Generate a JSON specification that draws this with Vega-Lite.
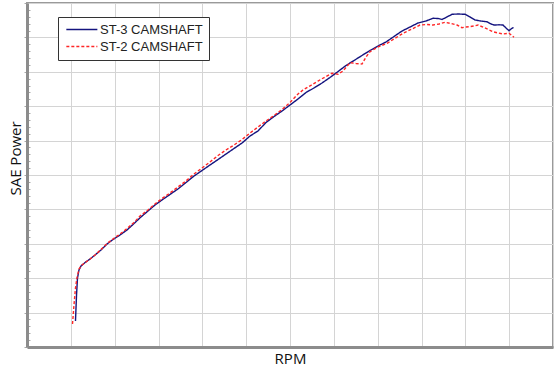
{
  "$schema": "https://vega.github.io/schema/vega-lite/v6.json",
  "width": 526,
  "height": 344,
  "autosize": {"type": "none"},
  "padding": {"left": 27, "top": 3, "right": 7, "bottom": 23},
  "background": "white",
  "config": {
    "view": {"stroke": "#9a9a9a", "strokeWidth": 2},
    "font": "Open Sans",
    "legend": {
      "orient": "none",
      "legendX": 31,
      "legendY": 14,
      "padding": 6,
      "strokeColor": "#333333",
      "fillColor": "white",
      "labelFont": "Liberation Sans",
      "labelFontSize": 13,
      "labelColor": "#222222",
      "symbolSize": 107,
      "symbolStrokeWidth": 1.5,
      "symbolOffset": 11.35,
      "labelOffset": 11.7,
      "rowPadding": 3,
      "labelLimit": 250,
      "cornerRadius": 0
    }
  },
  "data": {
    "values": [
      {"series": "ST-3 CAMSHAFT", "rpm": 553, "power": 37.8},
      {"series": "ST-3 CAMSHAFT", "rpm": 565, "power": 75.6},
      {"series": "ST-3 CAMSHAFT", "rpm": 576, "power": 100.3},
      {"series": "ST-3 CAMSHAFT", "rpm": 593, "power": 111.9},
      {"series": "ST-3 CAMSHAFT", "rpm": 616, "power": 117.7},
      {"series": "ST-3 CAMSHAFT", "rpm": 662, "power": 122.8},
      {"series": "ST-3 CAMSHAFT", "rpm": 719, "power": 127.9},
      {"series": "ST-3 CAMSHAFT", "rpm": 776, "power": 133.7},
      {"series": "ST-3 CAMSHAFT", "rpm": 844, "power": 141.0},
      {"series": "ST-3 CAMSHAFT", "rpm": 913, "power": 149.7},
      {"series": "ST-3 CAMSHAFT", "rpm": 981, "power": 156.3},
      {"series": "ST-3 CAMSHAFT", "rpm": 1061, "power": 162.8},
      {"series": "ST-3 CAMSHAFT", "rpm": 1141, "power": 170.1},
      {"series": "ST-3 CAMSHAFT", "rpm": 1221, "power": 179.5},
      {"series": "ST-3 CAMSHAFT", "rpm": 1300, "power": 189.0},
      {"series": "ST-3 CAMSHAFT", "rpm": 1380, "power": 197.7},
      {"series": "ST-3 CAMSHAFT", "rpm": 1460, "power": 206.4},
      {"series": "ST-3 CAMSHAFT", "rpm": 1540, "power": 213.7},
      {"series": "ST-3 CAMSHAFT", "rpm": 1631, "power": 221.7},
      {"series": "ST-3 CAMSHAFT", "rpm": 1722, "power": 229.7},
      {"series": "ST-3 CAMSHAFT", "rpm": 1814, "power": 239.1},
      {"series": "ST-3 CAMSHAFT", "rpm": 1905, "power": 248.5},
      {"series": "ST-3 CAMSHAFT", "rpm": 1996, "power": 256.5},
      {"series": "ST-3 CAMSHAFT", "rpm": 2087, "power": 264.5},
      {"series": "ST-3 CAMSHAFT", "rpm": 2179, "power": 272.5},
      {"series": "ST-3 CAMSHAFT", "rpm": 2270, "power": 280.5},
      {"series": "ST-3 CAMSHAFT", "rpm": 2361, "power": 288.5},
      {"series": "ST-3 CAMSHAFT", "rpm": 2453, "power": 296.5},
      {"series": "ST-3 CAMSHAFT", "rpm": 2544, "power": 306.7},
      {"series": "ST-3 CAMSHAFT", "rpm": 2635, "power": 314.0},
      {"series": "ST-3 CAMSHAFT", "rpm": 2726, "power": 326.3},
      {"series": "ST-3 CAMSHAFT", "rpm": 2818, "power": 335.0},
      {"series": "ST-3 CAMSHAFT", "rpm": 2909, "power": 343.0},
      {"series": "ST-3 CAMSHAFT", "rpm": 3000, "power": 351.7},
      {"series": "ST-3 CAMSHAFT", "rpm": 3091, "power": 360.5},
      {"series": "ST-3 CAMSHAFT", "rpm": 3183, "power": 369.9},
      {"series": "ST-3 CAMSHAFT", "rpm": 3274, "power": 376.5},
      {"series": "ST-3 CAMSHAFT", "rpm": 3365, "power": 383.7},
      {"series": "ST-3 CAMSHAFT", "rpm": 3456, "power": 391.7},
      {"series": "ST-3 CAMSHAFT", "rpm": 3548, "power": 400.4},
      {"series": "ST-3 CAMSHAFT", "rpm": 3639, "power": 409.2},
      {"series": "ST-3 CAMSHAFT", "rpm": 3730, "power": 416.4},
      {"series": "ST-3 CAMSHAFT", "rpm": 3821, "power": 423.7},
      {"series": "ST-3 CAMSHAFT", "rpm": 3913, "power": 431.0},
      {"series": "ST-3 CAMSHAFT", "rpm": 4004, "power": 437.5},
      {"series": "ST-3 CAMSHAFT", "rpm": 4095, "power": 443.3},
      {"series": "ST-3 CAMSHAFT", "rpm": 4186, "power": 451.3},
      {"series": "ST-3 CAMSHAFT", "rpm": 4278, "power": 459.3},
      {"series": "ST-3 CAMSHAFT", "rpm": 4369, "power": 465.1},
      {"series": "ST-3 CAMSHAFT", "rpm": 4460, "power": 470.9},
      {"series": "ST-3 CAMSHAFT", "rpm": 4551, "power": 473.8},
      {"series": "ST-3 CAMSHAFT", "rpm": 4631, "power": 477.8},
      {"series": "ST-3 CAMSHAFT", "rpm": 4688, "power": 477.5},
      {"series": "ST-3 CAMSHAFT", "rpm": 4734, "power": 476.0},
      {"series": "ST-3 CAMSHAFT", "rpm": 4791, "power": 479.7},
      {"series": "ST-3 CAMSHAFT", "rpm": 4848, "power": 483.6},
      {"series": "ST-3 CAMSHAFT", "rpm": 4916, "power": 484.0},
      {"series": "ST-3 CAMSHAFT", "rpm": 4996, "power": 483.6},
      {"series": "ST-3 CAMSHAFT", "rpm": 5053, "power": 479.7},
      {"series": "ST-3 CAMSHAFT", "rpm": 5110, "power": 475.3},
      {"series": "ST-3 CAMSHAFT", "rpm": 5179, "power": 473.8},
      {"series": "ST-3 CAMSHAFT", "rpm": 5247, "power": 472.8},
      {"series": "ST-3 CAMSHAFT", "rpm": 5293, "power": 469.5},
      {"series": "ST-3 CAMSHAFT", "rpm": 5327, "power": 468.0},
      {"series": "ST-3 CAMSHAFT", "rpm": 5384, "power": 468.3},
      {"series": "ST-3 CAMSHAFT", "rpm": 5430, "power": 468.0},
      {"series": "ST-3 CAMSHAFT", "rpm": 5464, "power": 463.7},
      {"series": "ST-3 CAMSHAFT", "rpm": 5498, "power": 459.7},
      {"series": "ST-3 CAMSHAFT", "rpm": 5521, "power": 462.2},
      {"series": "ST-3 CAMSHAFT", "rpm": 5550, "power": 464.4},
      {"series": "ST-2 CAMSHAFT", "rpm": 519, "power": 33.4},
      {"series": "ST-2 CAMSHAFT", "rpm": 536, "power": 61.0},
      {"series": "ST-2 CAMSHAFT", "rpm": 553, "power": 85.8},
      {"series": "ST-2 CAMSHAFT", "rpm": 570, "power": 100.3},
      {"series": "ST-2 CAMSHAFT", "rpm": 593, "power": 113.4},
      {"series": "ST-2 CAMSHAFT", "rpm": 627, "power": 119.2},
      {"series": "ST-2 CAMSHAFT", "rpm": 673, "power": 123.5},
      {"series": "ST-2 CAMSHAFT", "rpm": 719, "power": 127.9},
      {"series": "ST-2 CAMSHAFT", "rpm": 776, "power": 133.7},
      {"series": "ST-2 CAMSHAFT", "rpm": 844, "power": 141.7},
      {"series": "ST-2 CAMSHAFT", "rpm": 913, "power": 150.4},
      {"series": "ST-2 CAMSHAFT", "rpm": 981, "power": 157.0},
      {"series": "ST-2 CAMSHAFT", "rpm": 1061, "power": 164.2},
      {"series": "ST-2 CAMSHAFT", "rpm": 1141, "power": 172.2},
      {"series": "ST-2 CAMSHAFT", "rpm": 1221, "power": 181.0},
      {"series": "ST-2 CAMSHAFT", "rpm": 1289, "power": 190.4},
      {"series": "ST-2 CAMSHAFT", "rpm": 1380, "power": 199.1},
      {"series": "ST-2 CAMSHAFT", "rpm": 1460, "power": 207.9},
      {"series": "ST-2 CAMSHAFT", "rpm": 1540, "power": 215.8},
      {"series": "ST-2 CAMSHAFT", "rpm": 1631, "power": 223.8},
      {"series": "ST-2 CAMSHAFT", "rpm": 1722, "power": 232.6},
      {"series": "ST-2 CAMSHAFT", "rpm": 1814, "power": 241.3},
      {"series": "ST-2 CAMSHAFT", "rpm": 1905, "power": 251.5},
      {"series": "ST-2 CAMSHAFT", "rpm": 1996, "power": 260.2},
      {"series": "ST-2 CAMSHAFT", "rpm": 2087, "power": 268.9},
      {"series": "ST-2 CAMSHAFT", "rpm": 2179, "power": 278.3},
      {"series": "ST-2 CAMSHAFT", "rpm": 2270, "power": 286.3},
      {"series": "ST-2 CAMSHAFT", "rpm": 2361, "power": 293.6},
      {"series": "ST-2 CAMSHAFT", "rpm": 2453, "power": 301.6},
      {"series": "ST-2 CAMSHAFT", "rpm": 2544, "power": 311.0},
      {"series": "ST-2 CAMSHAFT", "rpm": 2635, "power": 319.8},
      {"series": "ST-2 CAMSHAFT", "rpm": 2726, "power": 328.5},
      {"series": "ST-2 CAMSHAFT", "rpm": 2818, "power": 336.5},
      {"series": "ST-2 CAMSHAFT", "rpm": 2909, "power": 345.2},
      {"series": "ST-2 CAMSHAFT", "rpm": 3000, "power": 355.4},
      {"series": "ST-2 CAMSHAFT", "rpm": 3091, "power": 367.7},
      {"series": "ST-2 CAMSHAFT", "rpm": 3148, "power": 373.5},
      {"series": "ST-2 CAMSHAFT", "rpm": 3228, "power": 379.4},
      {"series": "ST-2 CAMSHAFT", "rpm": 3319, "power": 386.6},
      {"series": "ST-2 CAMSHAFT", "rpm": 3411, "power": 393.2},
      {"series": "ST-2 CAMSHAFT", "rpm": 3479, "power": 397.8},
      {"series": "ST-2 CAMSHAFT", "rpm": 3548, "power": 396.4},
      {"series": "ST-2 CAMSHAFT", "rpm": 3605, "power": 401.2},
      {"series": "ST-2 CAMSHAFT", "rpm": 3684, "power": 413.2},
      {"series": "ST-2 CAMSHAFT", "rpm": 3753, "power": 412.1},
      {"series": "ST-2 CAMSHAFT", "rpm": 3821, "power": 411.3},
      {"series": "ST-2 CAMSHAFT", "rpm": 3867, "power": 421.5},
      {"series": "ST-2 CAMSHAFT", "rpm": 3913, "power": 429.2},
      {"series": "ST-2 CAMSHAFT", "rpm": 4004, "power": 436.1},
      {"series": "ST-2 CAMSHAFT", "rpm": 4107, "power": 441.4},
      {"series": "ST-2 CAMSHAFT", "rpm": 4186, "power": 447.7},
      {"series": "ST-2 CAMSHAFT", "rpm": 4289, "power": 456.0},
      {"series": "ST-2 CAMSHAFT", "rpm": 4369, "power": 460.8},
      {"series": "ST-2 CAMSHAFT", "rpm": 4483, "power": 468.0},
      {"series": "ST-2 CAMSHAFT", "rpm": 4563, "power": 468.8},
      {"series": "ST-2 CAMSHAFT", "rpm": 4631, "power": 468.0},
      {"series": "ST-2 CAMSHAFT", "rpm": 4700, "power": 469.5},
      {"series": "ST-2 CAMSHAFT", "rpm": 4768, "power": 471.9},
      {"series": "ST-2 CAMSHAFT", "rpm": 4837, "power": 470.2},
      {"series": "ST-2 CAMSHAFT", "rpm": 4905, "power": 468.0},
      {"series": "ST-2 CAMSHAFT", "rpm": 4962, "power": 464.1},
      {"series": "ST-2 CAMSHAFT", "rpm": 5008, "power": 465.1},
      {"series": "ST-2 CAMSHAFT", "rpm": 5053, "power": 465.6},
      {"series": "ST-2 CAMSHAFT", "rpm": 5099, "power": 466.6},
      {"series": "ST-2 CAMSHAFT", "rpm": 5145, "power": 468.0},
      {"series": "ST-2 CAMSHAFT", "rpm": 5224, "power": 463.7},
      {"series": "ST-2 CAMSHAFT", "rpm": 5316, "power": 458.3},
      {"series": "ST-2 CAMSHAFT", "rpm": 5373, "power": 456.4},
      {"series": "ST-2 CAMSHAFT", "rpm": 5430, "power": 455.0},
      {"series": "ST-2 CAMSHAFT", "rpm": 5498, "power": 456.0},
      {"series": "ST-2 CAMSHAFT", "rpm": 5555, "power": 450.2}
    ]
  },
  "mark": {"type": "line", "strokeWidth": 1.4},
  "encoding": {
    "x": {
      "field": "rpm",
      "type": "quantitative",
      "scale": {"domain": [0, 6000], "nice": false, "zero": false},
      "axis": {
        "title": "RPM",
        "values": [0, 500, 1000, 1500, 2000, 2500, 3000, 3500, 4000, 4500, 5000, 5500, 6000],
        "labels": false,
        "ticks": false,
        "grid": true,
        "gridColor": "#d4d4d4",
        "domainColor": "#8c8c8c",
        "domainWidth": 3,
        "titleFont": "Open Sans",
        "titleFontSize": 15,
        "titleFontWeight": "normal",
        "titleColor": "#111111",
        "titleY": 16,
        "titleBaseline": "alphabetic"
      }
    },
    "y": {
      "field": "power",
      "type": "quantitative",
      "scale": {"domain": [0, 500], "nice": false, "zero": false},
      "axis": {
        "title": "SAE Power",
        "values": [0, 10, 20, 30, 40, 50, 60, 70, 80, 90, 100, 110, 120, 130, 140, 150, 160, 170, 180, 190, 200, 210, 220, 230, 240, 250, 260, 270, 280, 290, 300, 310, 320, 330, 340, 350, 360, 370, 380, 390, 400, 410, 420, 430, 440, 450, 460, 470, 480, 490, 500],
        "labels": false,
        "ticks": true,
        "tickSize": {"condition": {"test": "datum.value % 50 === 0", "value": 3}, "value": -3},
        "tickColor": "#a8a8a8",
        "grid": true,
        "gridColor": "#d4d4d4",
        "gridOpacity": {"condition": {"test": "datum.value % 50 === 0", "value": 1}, "value": 0},
        "domainColor": "#8c8c8c",
        "domainWidth": 3,
        "titleFont": "Open Sans",
        "titleFontSize": 15,
        "titleFontWeight": "normal",
        "titleColor": "#111111",
        "titleAngle": 270,
        "titleX": -7,
        "titleY": 155,
        "titleAlign": "center",
        "titleBaseline": "alphabetic"
      }
    },
    "color": {
      "field": "series",
      "type": "nominal",
      "scale": {"domain": ["ST-3 CAMSHAFT", "ST-2 CAMSHAFT"], "range": ["#14147f", "#ff2626"]},
      "legend": {"title": null, "symbolType": "M-3,0H3"}
    },
    "strokeDash": {
      "field": "series",
      "type": "nominal",
      "scale": {"domain": ["ST-3 CAMSHAFT", "ST-2 CAMSHAFT"], "range": [[1, 0], [3, 2]]},
      "legend": {"title": null, "symbolType": "M-3,0H3"}
    }
  }
}
